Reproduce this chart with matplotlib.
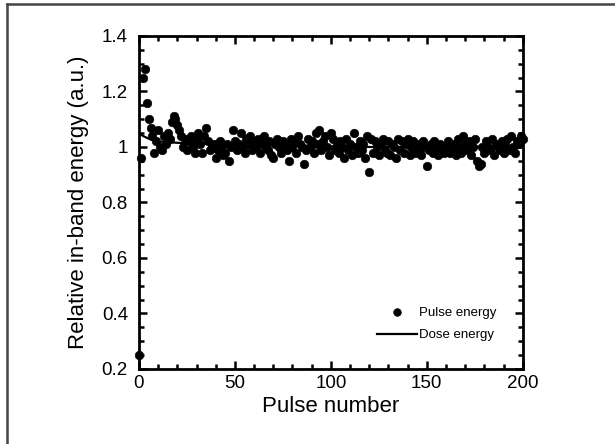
import matplotlib
matplotlib.use("Agg")
import matplotlib.pyplot as plt
from matplotlib.lines import Line2D
from matplotlib.ticker import MultipleLocator

plt.rcParams['font.family'] = ['Liberation Sans', 'DejaVu Sans']

# Pulse energy, one value per pulse (0..200)
pulse_energy = [
    0.25, 0.96, 1.25, 1.28, 1.16, 1.10, 1.07, 1.04, 0.98, 1.02,
    1.06, 1.00, 0.99, 1.04, 1.01, 1.05, 1.03, 1.09, 1.11, 1.10,
    1.08, 1.06, 1.04, 1.00, 1.03, 0.99, 1.02, 1.04, 1.00, 0.98,
    1.03, 1.05, 1.01, 0.98, 1.04, 1.07, 1.02, 0.99, 1.00, 1.01,
    0.96, 0.99, 1.02, 1.00, 0.97, 0.98, 1.01, 0.95, 1.00, 1.06,
    1.02, 0.99, 1.01, 1.05, 1.00, 0.98, 1.03, 1.01, 1.04, 0.99,
    1.02, 1.00, 1.03, 0.98, 1.01, 1.04, 1.00, 0.99, 1.02, 0.97,
    0.96, 1.01, 1.03, 1.00, 0.98, 1.02, 1.01, 0.99, 0.95, 1.03,
    1.00, 1.02, 0.98, 1.04, 1.01, 1.00, 0.94, 0.99, 1.03, 1.00,
    1.02, 0.98, 1.05, 1.01, 1.06, 0.99, 1.02, 1.04, 1.00, 0.97,
    1.05, 1.03, 0.99, 1.01, 0.98, 1.02, 1.00, 0.96, 1.03, 0.99,
    1.01, 0.97, 1.05, 1.00, 0.98, 1.02, 0.99, 1.01, 0.96, 1.04,
    0.91, 1.03, 0.98, 1.02, 1.00, 0.97, 1.01, 1.03, 0.99, 0.98,
    1.02, 0.97, 1.01, 1.00, 0.96, 1.03, 0.99, 1.02, 0.98, 1.01,
    1.03, 0.97, 1.00, 1.02, 0.98, 1.01, 0.99, 0.97, 1.02, 1.00,
    0.93, 0.99, 1.01, 0.98, 1.02, 1.00, 0.97, 1.01, 0.99, 0.98,
    1.00, 1.02, 0.98, 0.99, 1.01, 0.97, 1.03, 1.00, 0.98, 1.04,
    1.01, 0.99, 1.02, 0.97, 1.00, 1.03, 0.95, 0.93, 0.94, 1.00,
    0.98, 1.02, 1.00, 0.99, 1.03, 0.97, 1.01, 1.00, 0.99, 1.02,
    0.98, 1.01, 1.03, 0.99, 1.04, 1.00, 0.98, 1.02, 1.01, 1.04,
    1.03,
]
pulse_number = list(range(len(pulse_energy)))

# Dose energy (smooth curve)
dose_x = [0, 2, 5, 10, 20, 40, 80, 120, 160, 200]
dose_energy = [1.05, 1.04, 1.03, 1.02, 1.015, 1.01, 1.005, 1.0, 1.0, 1.0]

fig = plt.figure(figsize=(6.15, 4.44), dpi=100)
ax = fig.add_axes([0.226, 0.169, 0.624, 0.750])

ax.plot(pulse_number, pulse_energy, linestyle='none', marker='o', ms=6.2,
        mew=0.4, color='black', label='Pulse energy', clip_on=False, zorder=3)
ax.plot(dose_x, dose_energy, color='black', lw=1.6, label='Dose energy', zorder=2)

ax.set_xlim(0, 200)
ax.set_ylim(0.2, 1.4)
ax.xaxis.set_major_locator(MultipleLocator(50))
ax.xaxis.set_minor_locator(MultipleLocator(10))
ax.yaxis.set_minor_locator(MultipleLocator(0.05))
ax.set_yticks([0.2, 0.4, 0.6, 0.8, 1.0, 1.2, 1.4])
ax.set_yticklabels(['0.2', '0.4', '0.6', '0.8', '1', '1.2', '1.4'])

ax.tick_params(which='both', direction='in', top=True, right=True, width=1.8,
               labelsize=13.5)
ax.tick_params(axis='y', which='both', pad=8)
ax.tick_params(axis='x', which='both', pad=4)
ax.tick_params(which='major', length=6)
ax.tick_params(which='minor', length=3.5)
for s in ax.spines.values():
    s.set_linewidth(2)

ax.set_xlabel('Pulse number', fontsize=16, labelpad=3)
ax.set_ylabel('Relative in-band energy (a.u.)', fontsize=16, labelpad=9)

ax.legend(loc='lower left', bbox_to_anchor=(0.62, 0.083), frameon=False,
          fontsize=9.5, handlelength=3.0, handletextpad=0.2, labelspacing=0.75,
          borderpad=0, borderaxespad=0, markerscale=0.9)

# outer frame (left and top edges)
fig.add_artist(Line2D([0.011, 0.011], [0.0, 0.991], transform=fig.transFigure,
                      color='#444444', lw=1.8))
fig.add_artist(Line2D([0.011, 1.0], [0.991, 0.991], transform=fig.transFigure,
                      color='#444444', lw=1.8))

fig.savefig('out.png', dpi=100)
